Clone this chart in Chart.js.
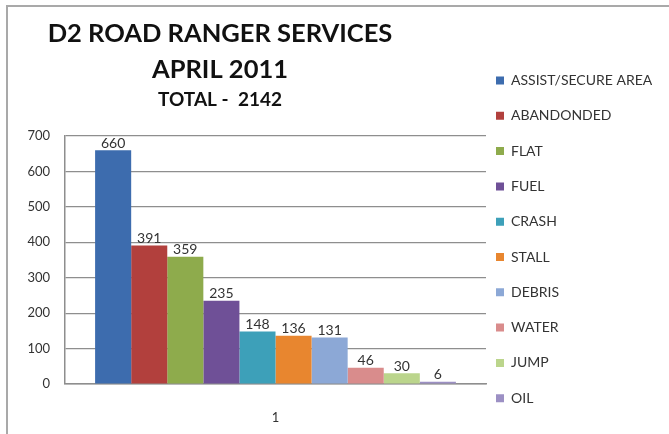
<!DOCTYPE html>
<html>
<head>
<meta charset="utf-8">
<script src="https://cdn.jsdelivr.net/npm/chart.js@4"></script>
<style>
  html, body { margin: 0; padding: 0; background: #fff; overflow: hidden; }
  #frame { position: absolute; left: 6px; top: 5px; width: 700px; height: 460px;
           border-left: 2px solid #a9a9a9; border-top: 2px solid #a9a9a9; }
  #wrap { position: absolute; left: 0; top: 0; width: 669px; height: 434px; }
</style>
</head>
<body>
<div id="frame"></div>
<div id="wrap"><canvas id="chart" width="669" height="434"></canvas></div>
<script>
// Road Ranger service calls, District 2, April 2011
const categories = ['1'];
const seriesNames = [
  'ASSIST/SECURE AREA', 'ABANDONDED', 'FLAT', 'FUEL', 'CRASH',
  'STALL', 'DEBRIS', 'WATER', 'JUMP', 'OIL'
];
const seriesValues = [660, 391, 359, 235, 148, 136, 131, 46, 30, 6];
const seriesColors = [
  '#3d6cae', '#b2403d', '#8eab4c', '#6f5097', '#3da0b9',
  '#e8862f', '#8ca8d6', '#d98c8c', '#bbd58c', '#9c90c4'
];
const titleLines = ['D2 ROAD RANGER SERVICES', 'APRIL 2011'];
const subtitleText = 'TOTAL -  2142';
const yTickValues = [0, 100, 200, 300, 400, 500, 600, 700];

const FONT = 'Lato, "Open Sans", sans-serif';
const TEXT = '#333333';
const GRID = '#8e8e8e';

// Title block is centred over the plot, not over the whole canvas
const titleSpan = {
  id: 'titleSpan',
  afterLayout(chart) {
    for (const b of chart.boxes) {
      if (b.position === 'top' && !b.axis) {
        b.left = 0; b.right = 440; b.width = 440;
      }
    }
  }
};

// Value printed above every bar
const valueLabels = {
  id: 'valueLabels',
  afterDatasetsDraw(chart) {
    const ctx = chart.ctx;
    ctx.save();
    ctx.font = '14px ' + FONT;
    ctx.fillStyle = TEXT;
    ctx.textAlign = 'center';
    ctx.textBaseline = 'middle';
    chart.data.datasets.forEach((ds, i) => {
      const meta = chart.getDatasetMeta(i);
      meta.data.forEach((bar, j) => {
        ctx.fillText(String(ds.data[j]), bar.x, bar.y - 7);
      });
    });
    ctx.restore();
  }
};

const datasets = seriesNames.map((name, i) => ({
  label: name,
  data: [seriesValues[i]],
  backgroundColor: seriesColors[i],
  borderWidth: 0,
  barPercentage: 1,
  categoryPercentage: 0.857
}));

new Chart(document.getElementById('chart'), {
  type: 'bar',
  data: { labels: categories, datasets },
  plugins: [titleSpan, valueLabels],
  options: {
    responsive: false,
    animation: false,
    layout: { padding: { left: 0, top: 0, right: 17, bottom: 7.5 } },
    plugins: {
      tooltip: { enabled: false },
      title: {
        display: true,
        text: titleLines,
        color: '#111',
        font: { family: FONT, size: 25.5, weight: 'bold', lineHeight: '35.5px' },
        padding: { top: 16.25, bottom: 0 }
      },
      subtitle: {
        display: true,
        text: subtitleText,
        color: '#111',
        font: { family: FONT, size: 19, weight: 'bold', lineHeight: '22.8px' },
        padding: { top: 1.35, bottom: 24.6 }
      },
      legend: {
        position: 'right',
        align: 'end',
        maxWidth: 166,
        labels: {
          color: TEXT,
          font: { family: FONT, size: 14, lineHeight: '25.3px' },
          boxWidth: 8,
          boxHeight: 8,
          padding: 10,
          generateLabels(chart) {
            return Chart.defaults.plugins.legend.labels.generateLabels(chart)
              .map(item => ({ ...item, text: [item.text] }));
          }
        }
      }
    },
    scales: {
      x: {
        grid: { display: false },
        border: { display: true, color: GRID, width: 1.5 },
        ticks: { color: TEXT, font: { family: FONT, size: 13 }, padding: 18.2 },
        afterFit(scale) { scale.height = 42.5; }
      },
      y: {
        min: 0,
        max: 700,
        afterBuildTicks(scale) { scale.ticks = yTickValues.map(v => ({ value: v })); },
        grid: { color: GRID, lineWidth: 1.2, drawTicks: false },
        border: { display: true, color: GRID, width: 1.5 },
        ticks: { color: TEXT, font: { family: FONT, size: 13 }, padding: 15 },
        afterFit(scale) { scale.width = 65; }
      }
    }
  }
});
</script>
</body>
</html>
